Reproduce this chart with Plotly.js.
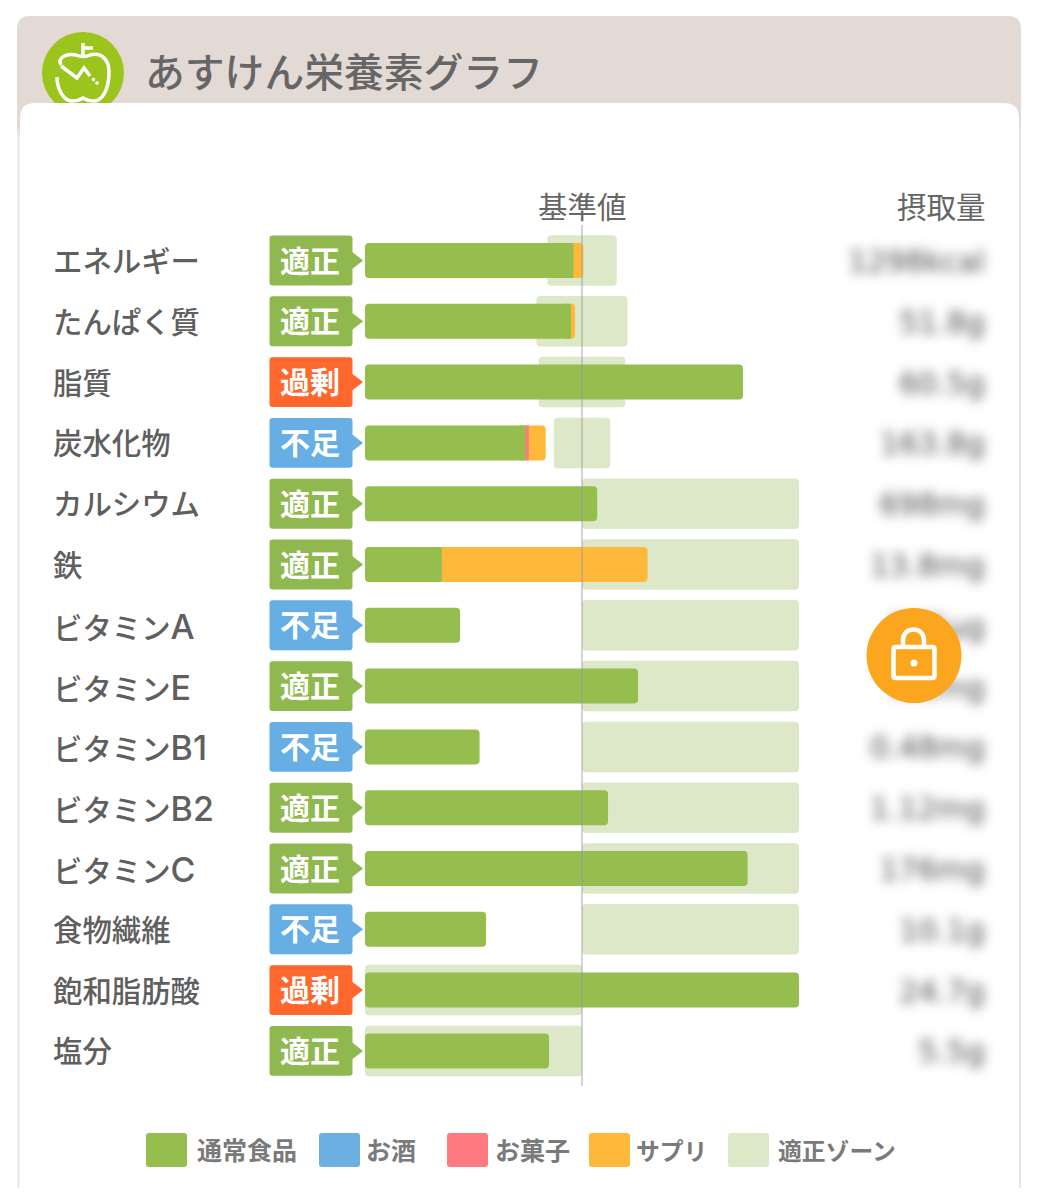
<!DOCTYPE html>
<html lang="ja">
<head>
<meta charset="utf-8">
<script src="https://cdn.plot.ly/plotly-3.0.1.min.js"></script>
<style>html,body{margin:0;padding:0;background:#fff}#chart{width:1039px;height:1200px}</style>
</head>
<body>
<div id="chart"></div>
<script>
// ---- data (percent of the reference value) ----
const nutrients = ['エネルギー','たんぱく質','脂質','炭水化物','カルシウム','鉄','ビタミンA','ビタミンE','ビタミンB1','ビタミンB2','ビタミンC','食物繊維','飽和脂肪酸','塩分'];
const statuses  = ['適正','適正','過剰','不足','適正','適正','不足','適正','不足','適正','適正','不足','過剰','適正'];
const foodVals   = [96,94.8,174.2,74,107,35.3,43.8,125.8,52.8,112,176.3,55.8,200,84.8];
const alcoholVals= [0,0,0,0,0,0,0,0,0,0,0,0,0,0];
const sweetVals  = [0,0,0,1.5,0,0,0,0,0,0,0,0,0,0];
const suppVals   = [4.6,2,0,7.8,0,94.9,0,0,0,0,0,0,0,0];
const zoneStart  = [84,79,80,87,100,100,100,100,100,100,100,100,0,0];
const zoneEnd    = [116,121,120,113,200,200,200,200,200,200,200,200,100,100];
const intakeText = ['1298kcal','51.8g','60.5g','163.8g','698mg','13.8mg','285µg','7.6mg','0.48mg','1.12mg','176mg','10.1g','24.7g','5.5g'];
const legendNames  = ['通常食品','お酒','お菓子','サプリ','適正ゾーン'];
const legendColors = ['#95BE4E','#6BB0E0','#FF7A80','#FFB93A','#DCE8C8'];
const statusColors = {'適正':'#8FB94E','過剰':'#FF682C','不足':'#66AEE3'};
const titleText = 'あすけん栄養素グラフ';
const refLabel = '基準値';
const intakeLabel = '摂取量';

// ---- page geometry ----
const W = 1039, H = 1200;
const pxPerUnit = 2.17, x0px = 365;
const rowTop = 260.5, rowStep = 60.8;
const blurShift = 4;
const xRange = [(0 - x0px) / pxPerUnit, (W - x0px) / pxPerUnit];
const yRange = [(H - rowTop) / rowStep, (0 - rowTop) / rowStep];
const FONT = '"Noto Sans CJK JP","Noto Sans",sans-serif';
const LABELFONT = 'Inter,"Noto Sans CJK JP",sans-serif';
const px = v => v / W, py = v => 1 - v / H;
const valAt = p => (p - x0px) / pxPerUnit;
const BAR = 0.575, R = 4, TUCK = 3;

const common = {type:'bar', orientation:'h', y:nutrients, hoverinfo:'skip'};
const hasExtra = foodVals.map((f,i)=>sweetVals[i]+suppVals[i]+alcoholVals[i] > 0);
const traces = [
  // zones
  Object.assign({}, common, {name:legendNames[4], x:zoneEnd.map((e,i)=>e-zoneStart[i]), base:zoneStart, width:0.83,
    marker:{color:legendColors[4], cornerradius:R}, xaxis:'x', yaxis:'y'}),
  // blurred intake values
  {type:'scatter', mode:'text', x:nutrients.map(()=>valAt(985)), y:nutrients, text:intakeText, textposition:'middle left',
    textfont:{family:'"DejaVu Sans",sans-serif', size:30, color:'#4A4A4A'}, hoverinfo:'skip', xaxis:'x', yaxis:'y4', cliponaxis:false},
  // supplement segment: rounded tip, tucked behind the food bar
  Object.assign({}, common, {name:legendNames[3], x:foodVals.map((f,i)=>suppVals[i]>0 ? TUCK+sweetVals[i]+suppVals[i] : null),
    base:foodVals.map(f=>f-TUCK), width:BAR, marker:{color:legendColors[3], cornerradius:R}, xaxis:'x2', yaxis:'y2'}),
  // food bar, rounded at both ends
  Object.assign({}, common, {name:legendNames[0], x:foodVals, base:foodVals.map(()=>0), width:BAR,
    marker:{color:legendColors[0], cornerradius:R}, xaxis:'x2', yaxis:'y2'}),
  // square end of the food bar where another segment follows
  Object.assign({}, common, {x:foodVals.map((f,i)=>hasExtra[i] ? TUCK : null), base:foodVals.map(f=>f-TUCK), width:BAR,
    marker:{color:legendColors[0], cornerradius:0.5}, xaxis:'x2', yaxis:'y2'}),
  Object.assign({}, common, {name:legendNames[1], x:alcoholVals.map(v=>v>0?v:null), base:foodVals, width:BAR,
    marker:{color:legendColors[1]}, xaxis:'x2', yaxis:'y2'}),
  Object.assign({}, common, {name:legendNames[2], x:sweetVals.map(v=>v>0?v:null), base:foodVals, width:BAR,
    marker:{color:legendColors[2], cornerradius:0.5}, xaxis:'x2', yaxis:'y2'}),
  // status badges
  {type:'scatter', mode:'markers', x:nutrients.map(()=>valAt(355.6)), y:nutrients,
    marker:{symbol:'triangle-right', size:15, color:statuses.map(s=>statusColors[s])}, hoverinfo:'skip', xaxis:'x3', yaxis:'y3', cliponaxis:false},
  Object.assign({}, common, {x:nutrients.map(()=>valAt(352.5)-valAt(269.5)), base:nutrients.map(()=>valAt(269.5)), width:0.82,
    marker:{color:statuses.map(s=>statusColors[s]), cornerradius:3}, xaxis:'x3', yaxis:'y3'})
];

function roundRect(x0,y0,x1,y1,r){
  return `M${x0+r},${y0} L${x1-r},${y0} Q${x1},${y0} ${x1},${y0+r} L${x1},${y1-r} Q${x1},${y1} ${x1-r},${y1} L${x0+r},${y1} Q${x0},${y1} ${x0},${y1-r} L${x0},${y0+r} Q${x0},${y0} ${x0+r},${y0} Z`;
}
const pPath = (d) => d.replace(/(-?[\d.]+),(-?[\d.]+)/g, (m,a,b)=>`${(+a/W).toFixed(6)},${(1-b/H).toFixed(6)}`);
const deco = (d, fill, line, lw, layer) => ({type:'path', xref:'paper', yref:'paper', path:pPath(d), fillcolor:fill||'rgba(0,0,0,0)',
  line:{color:line||'rgba(0,0,0,0)', width:lw||0}, layer:layer||'below'});
const circle = (cx,cy,r,fill,layer) => ({type:'circle', xref:'paper', yref:'paper', x0:px(cx-r), x1:px(cx+r), y0:py(cy+r), y1:py(cy-r), fillcolor:fill, line:{width:0}, layer:layer||'below'});

const shapes = [
  deco(roundRect(17,16,1021,140,13), '#E3DAD5'),
  circle(83,73,41,'#9BC41C'),
  deco('M61,65 C57,58 66,53 76,55 Q83,58 90,55 C102,52 109,60 109,72 C109,88 103,101 94,101 Q88,101 83,98 Q78,101 72,101 C63,101 57,88 57,77', null, '#FFFFFF', 3.5),
  deco('M83,55 L83,43 M83,48 L93,48', null, '#FFFFFF', 3.5),
  deco('M61,66 L77,78 L84,68 L90,76', null, '#FFFFFF', 3.5),
  circle(93.5,79.5,1.8,'#FFFFFF'), circle(97,83,1.8,'#FFFFFF'),
  deco('M18.5,128 L18.5,1188 M1020,128 L1020,1188', null, '#E6E6E6', 2),
  deco(`M20,1195 L20,118 Q20,103 35,103 L1004,103 Q1019,103 1019,118 L1019,1195 Z`, '#FFFFFF'),
  {type:'line', xref:'x', yref:'paper', x0:100, x1:100, y0:py(225), y1:py(1086), line:{color:'rgba(150,150,165,0.85)', width:1}, layer:'above'},
  circle(914,655.5,47.5,'#FCA61F','above'),
  deco('M903,646 L903,640 C903,626 924,626 924,640 L924,646', null, '#FFFFFF', 4.5, 'above'),
  deco(roundRect(893.5,647,934.5,678,2), null, '#FFFFFF', 4.5, 'above'),
  circle(914,663,3.5,'#FFFFFF','above')
];

const swatchX = [146,319,447,589,728], swatchW = 41;
const legendTextX = [195,364,493,634,776];
const legendSize = [25,25,25,23.8,23.8];
legendNames.forEach((n,i)=>{
  shapes.push(deco(roundRect(swatchX[i],1133,swatchX[i]+swatchW,1167,3), legendColors[i]));
});
const annotations = legendNames.map((n,i)=>({xref:'paper', yref:'paper', x:px(legendTextX[i]), y:py(1149), xanchor:'left', yanchor:'middle',
  text:n, showarrow:false, font:{family:FONT, size:legendSize[i], color:'#7A7A7A', weight:700}}));
nutrients.forEach(n=>annotations.push({xref:'paper', yref:'y', x:px(50.5), y:n, xanchor:'left', yanchor:'middle', yshift:-1,
  text:n.replace(/[A-Z]\d?$/, m=>`<span style="font-size:34px">${m}</span>`), showarrow:false,
  font:{family:LABELFONT, size:29.4, color:'#5F5F5F', weight:500}}));
nutrients.forEach((n,i)=>annotations.push({xref:'x', yref:'y', x:valAt(310), y:n, xanchor:'center', yanchor:'middle', yshift:2, text:statuses[i], showarrow:false,
  font:{family:FONT, size:30, color:'#FFFFFF', weight:700}}));
annotations.push({xref:'x', yref:'paper', x:100, y:py(205), xanchor:'center', yanchor:'middle', text:refLabel, showarrow:false,
  font:{family:FONT, size:29.5, color:'#666666'}});
annotations.push({xref:'paper', yref:'paper', x:px(988), y:py(205), xanchor:'right', yanchor:'middle', text:intakeLabel, showarrow:false,
  font:{family:FONT, size:29.5, color:'#666666'}});

const xAxis = extra => Object.assign({range:xRange, autorange:false, visible:false, fixedrange:true, domain:[0,1]}, extra);
const yAxis = extra => Object.assign({type:'category', categoryorder:'array', categoryarray:nutrients, range:yRange, autorange:false, visible:false, fixedrange:true, domain:[0,1]}, extra);

const layout = {
  width:W, height:H, margin:{l:0,r:0,t:0,b:0,pad:0},
  paper_bgcolor:'#FFFFFF', plot_bgcolor:'rgba(0,0,0,0)',
  showlegend:false, barmode:'overlay', dragmode:false, hovermode:false,
  title:{text:titleText, x:px(145), xanchor:'left', xref:'paper', y:py(73), yanchor:'middle', yref:'paper', pad:{t:0,b:0,l:0,r:0},
    font:{family:FONT, size:39.8, color:'#666666', weight:500}},
  xaxis:xAxis({anchor:'y'}), yaxis:yAxis({anchor:'x'}),
  xaxis2:xAxis({anchor:'y2', overlaying:'x'}), yaxis2:yAxis({anchor:'x2', overlaying:'y'}),
  xaxis3:xAxis({anchor:'y3', overlaying:'x'}), yaxis3:yAxis({anchor:'x3', overlaying:'y'}),
  yaxis4:yAxis({anchor:'x', overlaying:'y', range:yRange.map(v=>v-blurShift/rowStep)}),
  shapes, annotations
};

Plotly.newPlot('chart', traces, layout, {displayModeBar:false, staticPlot:true, responsive:false}).then(gd=>{
  gd.querySelectorAll('.textpoint').forEach(g=>{
    if (intakeText.includes(g.textContent)) g.style.filter='blur(6px)';
  });
});
</script>
</body>
</html>
